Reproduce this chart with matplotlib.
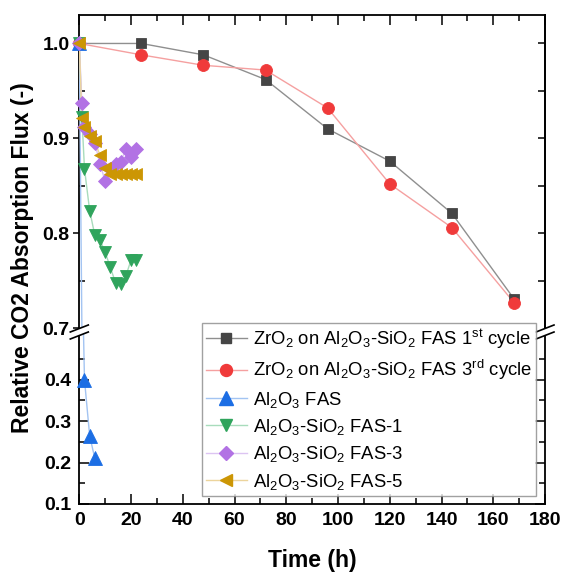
import numpy as np
import matplotlib
matplotlib.use("Agg")
import matplotlib.pyplot as plt
from matplotlib.lines import Line2D
from matplotlib.patches import Polygon

plt.rcParams['font.family'] = ['Liberation Sans', 'DejaVu Sans']
plt.rcParams['mathtext.fontset'] = 'custom'
plt.rcParams['mathtext.rm'] = 'Liberation Sans'
plt.rcParams['mathtext.it'] = 'Liberation Sans'
plt.rcParams['mathtext.bf'] = 'Liberation Sans:bold'
plt.rcParams['mathtext.default'] = 'regular'

# ---------------- data ----------------
t_zr = [0, 24, 48, 72, 96, 120, 144, 168]
zr_1st = [1.0, 1.0, 0.988, 0.962, 0.910, 0.876, 0.821, 0.731]
zr_3rd = [1.0, 0.988, 0.977, 0.972, 0.932, 0.852, 0.806, 0.727]

t_al = [0, 2, 4, 6]
al_fas = [1.0, 0.40, 0.265, 0.21]

t_fas = [0, 1, 2, 4, 6, 8, 10, 12, 14, 16, 18, 20, 22]
fas_1 = [1.0, 0.923, 0.868, 0.824, 0.798, 0.793, 0.780, 0.764, 0.748, 0.747, 0.755, 0.772, 0.772]
fas_3 = [1.0, 0.937, 0.912, 0.905, 0.895, 0.873, 0.855, 0.868, 0.873, 0.875, 0.889, 0.880, 0.889]
fas_5 = [1.0, 0.922, 0.912, 0.903, 0.897, 0.882, 0.869, 0.862, 0.862, 0.862, 0.862, 0.862, 0.862]

labels = [
    r'ZrO$_2$ on Al$_2$O$_3$-SiO$_2$ FAS 1$^{st}$ cycle',
    r'ZrO$_2$ on Al$_2$O$_3$-SiO$_2$ FAS 3$^{rd}$ cycle',
    r'Al$_2$O$_3$ FAS',
    r'Al$_2$O$_3$-SiO$_2$ FAS-1',
    r'Al$_2$O$_3$-SiO$_2$ FAS-3',
    r'Al$_2$O$_3$-SiO$_2$ FAS-5',
]

x_ticks = [0, 20, 40, 60, 80, 100, 120, 140, 160, 180]
y_ticks_top = [0.7, 0.8, 0.9, 1.0]
y_ticks_bot = [0.1, 0.2, 0.3, 0.4]

series = [
    (t_zr, zr_1st, 's', 7.2, '#454545', '#8f8f8f'),
    (t_zr, zr_3rd, 'o', 8.6, '#f03a3a', '#f5a0a0'),
    (t_al, al_fas, '^', 9.5, '#1c6ee4', '#a3c4f2'),
    (t_fas, fas_1, 'v', 9.0, '#2fa45c', '#a8dcbc'),
    (t_fas, fas_3, 'D', 7.0, '#b272e4', '#dcc4f2'),
    (t_fas, fas_5, '<', 9.0, '#cc9604', '#ecd49c'),
]

W, H = 564, 574
fig = plt.figure(figsize=(W / 100, H / 100), dpi=100)

x0, x1 = 79.3, 545.0
y_top, y_brk, y_bot = 15.0, 332.0, 504.0
axt = fig.add_axes([x0 / W, 1 - y_brk / H, (x1 - x0) / W, (y_brk - y_top) / H])
axb = fig.add_axes([x0 / W, 1 - y_bot / H, (x1 - x0) / W, (y_bot - y_brk) / H])

top_lim = (0.696, 1.030)
bot_lim = (0.1, 0.515)

for ax, lim in ((axt, top_lim), (axb, bot_lim)):
    for i, (t, y, mk, ms, c, lc) in enumerate(series):
        t = np.asarray(t, float)
        y = np.asarray(y, float)
        ax.plot(t, y, '-', color=lc, lw=1.0, zorder=2 + i)
        m = (y >= lim[0]) & (y <= lim[1])
        ax.plot(t[m], y[m], ls='none', marker=mk, ms=ms, mfc=c, mec=c,
                mew=0.6, clip_on=False, zorder=10 + i)
    ax.set_xlim(0, 180)
    ax.set_ylim(*lim)
    for s in ax.spines.values():
        s.set_linewidth(1.3)
        s.set_color('black')

axt.spines['bottom'].set_visible(False)
axb.spines['top'].set_visible(False)

# ticks
axt.set_yticks(y_ticks_top)
axt.set_yticks([0.75, 0.85, 0.95], minor=True)
axt.set_xticks(x_ticks)
axt.set_xticks(np.arange(10, 180, 20), minor=True)
axt.tick_params(axis='x', which='both', bottom=False, top=True, labelbottom=False,
                direction='in', width=1.1)
axt.tick_params(axis='x', which='major', length=7)
axt.tick_params(axis='x', which='minor', length=4)
axt.tick_params(axis='y', which='major', left=True, right=False, direction='out',
                length=4, width=1.1, pad=3, labelsize=14)
axt.tick_params(axis='y', which='minor', left=True, right=False, direction='in',
                length=4, width=1.1)
axt_r = axt.secondary_yaxis('right')
axt_r.set_yticks([0.75, 0.8, 0.85, 0.9, 0.95, 1.0])
axt_r.tick_params(direction='in', length=5, width=1.1, labelright=False)
axt_r.spines['right'].set_linewidth(1.3)

axb.set_yticks(y_ticks_bot)
axb.set_yticks([0.15, 0.25, 0.35, 0.45], minor=True)
axb.set_xticks(x_ticks)
axb.set_xticks(np.arange(10, 180, 20), minor=True)
axb.tick_params(axis='both', which='both', direction='in', width=1.1,
                top=False, right=True)
axb.tick_params(axis='both', which='major', length=7, labelsize=14, pad=6)
axb.tick_params(axis='both', which='minor', length=4)

for ax in (axt, axb):
    ax.yaxis.set_major_formatter(matplotlib.ticker.FormatStrFormatter('%.1f'))
    for lab in ax.get_yticklabels() + ax.get_xticklabels():
        lab.set_fontweight('bold')

# axis break marks
def brk(cx, cy):
    dx, dy, g = 9, 3.5, 3.5
    ys = H - cy
    poly = Polygon([(cx - dx, ys + g - dy), (cx + dx, ys + g + dy),
                    (cx + dx, ys - g + dy), (cx - dx, ys - g - dy)],
                   closed=True, transform=None, facecolor='white',
                   edgecolor='none', zorder=50)
    fig.patches.append(poly)
    for off in (g, -g):
        fig.lines.append(Line2D([cx - dx, cx + dx], [ys + off - dy, ys + off + dy],
                                transform=None, color='black', lw=1.2, zorder=51))

brk(x0, y_brk)
brk(x1, y_brk)

# legend
handles = [Line2D([], [], color=lc, lw=1.0, marker=mk, ms=ms, mfc=c, mec=c)
           for (t, y, mk, ms, c, lc) in series]
leg = fig.legend(handles, labels, loc='upper left',
                 bbox_to_anchor=(202 / W, 1 - 323 / H), borderaxespad=0,
                 fontsize=13.3, frameon=True, fancybox=False, edgecolor='#8a8a8a',
                 handlelength=2.2, handletextpad=0.35, labelspacing=0.4,
                 borderpad=0.22)
leg.get_frame().set_linewidth(1.0)
leg.set_zorder(60)

fig.text(23 / W, 1 - 258 / H, 'Relative CO2 Absorption Flux (-)', rotation=90,
         ha='center', va='center', fontsize=16.5, fontweight='bold')
fig.text((x0 + x1) / 2 / W, 1 - 560 / H, 'Time (h)', ha='center', va='center',
         fontsize=16.5, fontweight='bold')

fig.savefig('out.png', dpi=100)
